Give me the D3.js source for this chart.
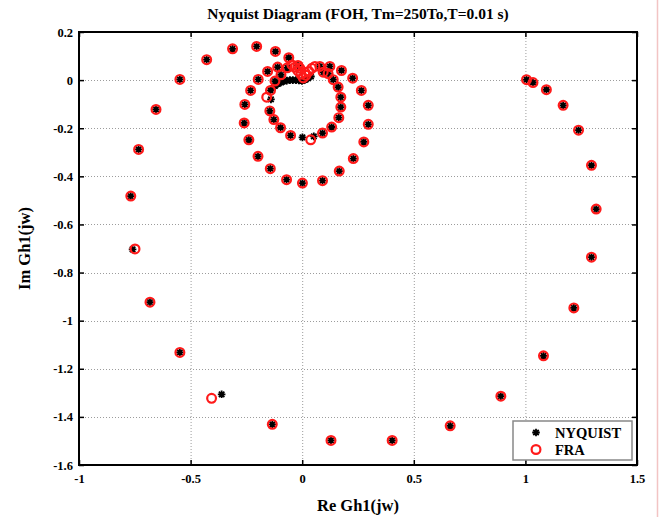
<!DOCTYPE html>
<html>
<head>
<meta charset="utf-8">
<script src="https://cdn.jsdelivr.net/npm/d3@7/dist/d3.min.js"></script>
<style>
  html, body { margin: 0; padding: 0; background: #fff; }
  svg { display: block; }
  text { font-family: "Liberation Serif", "Times New Roman", serif; font-weight: bold; fill: #000; }
</style>
</head>
<body>
<svg id="chart" width="662" height="517"></svg>
<script>
// Axis ticks
const xTicks = [-1, -0.5, 0, 0.5, 1, 1.5];
const yTicks = [0.2, 0, -0.2, -0.4, -0.6, -0.8, -1, -1.2, -1.4, -1.6];

// Computed Nyquist locus of Gh1(jw)
const nyquistRe = [1.005, 1.034, 1.094, 1.169, 1.238, 1.296, 1.317, 1.296, 1.217, 1.081,
  0.890, 0.663, 0.403, 0.129, -0.134, -0.361, -0.548, -0.682, -0.760, -0.768,
  -0.733, -0.655, -0.548, -0.428, -0.312, -0.204, -0.120, -0.060, -0.019, 0.079,
  0.124, 0.176, 0.226, 0.265, 0.296, 0.296, 0.276, 0.229, 0.166, 0.091,
  0.001, -0.070, -0.143, -0.198, -0.239, -0.260, -0.257, -0.231, -0.197, -0.155,
  -0.110, -0.067, 0.094, 0.116, 0.139, 0.161, 0.173, 0.173, 0.164, 0.132,
  0.091, 0.052, 0.001, -0.052, -0.097, -0.127, -0.145, -0.140, -0.142, -0.122,
  -0.095, -0.133, -0.122, -0.109, -0.095, -0.082, -0.069, -0.055, -0.042, -0.028,
  -0.015, -0.001, 0.012, 0.026, 0.039];
const nyquistIm = [0.002, -0.010, -0.040, -0.105, -0.208, -0.354, -0.536, -0.736, -0.947, -1.146,
  -1.314, -1.437, -1.498, -1.498, -1.431, -1.306, -1.132, -0.923, -0.704, -0.482,
  -0.288, -0.122, 0.003, 0.085, 0.130, 0.140, 0.119, 0.093, 0.061, 0.057,
  0.057, 0.040, 0.008, -0.043, -0.105, -0.184, -0.257, -0.326, -0.378, -0.418,
  -0.428, -0.414, -0.368, -0.317, -0.248, -0.178, -0.101, -0.043, 0.003, 0.036,
  0.054, 0.051, 0.033, 0.027, 0.002, -0.029, -0.071, -0.112, -0.156, -0.195,
  -0.220, -0.234, -0.238, -0.230, -0.198, -0.164, -0.128, -0.080, -0.043, -0.004,
  0.022, -0.034, -0.024, -0.016, -0.010, -0.005, -0.002, 0.000, 0.000, 0.000,
  -0.001, -0.003, 0.001, 0.007, 0.015];

// Frequency response analyser measurements
const fraRe = [1.005, 1.034, 1.094, 1.169, 1.238, 1.296, 1.317, 1.296, 1.217, 1.081,
  0.890, 0.663, 0.403, 0.129, -0.134, -0.406, -0.548, -0.682, -0.749, -0.768,
  -0.733, -0.655, -0.548, -0.428, -0.312, -0.204, -0.120, -0.060, -0.019, 0.079,
  0.124, 0.176, 0.226, 0.265, 0.296, 0.296, 0.276, 0.229, 0.166, 0.091,
  0.001, -0.070, -0.143, -0.198, -0.239, -0.260, -0.257, -0.231, -0.197, -0.155,
  -0.110, -0.067, 0.094, 0.116, 0.139, 0.161, 0.173, 0.173, 0.164, 0.132,
  0.091, 0.038, -0.052, -0.097, -0.127, -0.145, -0.159, -0.142, -0.122, -0.095,
  -0.046, -0.033, -0.019, -0.006, 0.005, 0.017, 0.030, 0.043, 0.057, 0.012, -0.010];
const fraIm = [0.002, -0.010, -0.040, -0.105, -0.208, -0.354, -0.536, -0.736, -0.947, -1.146,
  -1.314, -1.437, -1.498, -1.498, -1.431, -1.323, -1.132, -0.923, -0.702, -0.482,
  -0.288, -0.122, 0.003, 0.085, 0.130, 0.140, 0.119, 0.093, 0.061, 0.057,
  0.057, 0.040, 0.008, -0.043, -0.105, -0.184, -0.257, -0.326, -0.378, -0.418,
  -0.428, -0.414, -0.368, -0.317, -0.248, -0.178, -0.101, -0.043, 0.003, 0.036,
  0.054, 0.051, 0.033, 0.027, 0.002, -0.029, -0.071, -0.112, -0.156, -0.195,
  -0.220, -0.248, -0.230, -0.198, -0.164, -0.128, -0.071, -0.043, -0.004, 0.022,
  0.063, 0.053, 0.038, 0.024, 0.009, 0.020, 0.036, 0.049, 0.057, 0.032, 0.049];

const seriesNames = ["NYQUIST", "FRA"];

const svg = d3.select("#chart");
const W = 662, H = 517;
const m = { left: 79, top: 32, right: 25, bottom: 52 };
const pw = W - m.left - m.right, ph = H - m.top - m.bottom;

const x = d3.scaleLinear().domain([-1, 1.5]).range([0, pw]);
const y = d3.scaleLinear().domain([-1.6, 0.2]).range([ph, 0]);

// faint frame edge on the right of the figure
svg.append("line").attr("x1", 657.5).attr("x2", 657.5).attr("y1", 0).attr("y2", H)
  .attr("stroke", "#f2c4c4").attr("stroke-width", 1.5);

const g = svg.append("g").attr("transform", `translate(${m.left},${m.top})`);

// dotted grid
const grid = g.append("g").attr("stroke", "#9c9c9c").attr("stroke-width", 1).attr("stroke-dasharray", "1,2");
xTicks.slice(1, -1).forEach(t => grid.append("line")
  .attr("x1", x(t) + 0.5).attr("x2", x(t) + 0.5).attr("y1", 0).attr("y2", ph));
yTicks.slice(1, -1).forEach(t => grid.append("line")
  .attr("x1", 0).attr("x2", pw).attr("y1", Math.round(y(t)) + 0.5).attr("y2", Math.round(y(t)) + 0.5));

const fmt = d => String(+d.toFixed(2));

// axes with inward ticks
const axB = g.append("g").attr("transform", `translate(0,${ph})`)
  .call(d3.axisBottom(x).tickValues(xTicks).tickFormat(fmt).tickSizeInner(-5).tickSizeOuter(0).tickPadding(9));
const axT = g.append("g")
  .call(d3.axisTop(x).tickValues(xTicks).tickFormat("").tickSizeInner(-5).tickSizeOuter(0));
const axL = g.append("g")
  .call(d3.axisLeft(y).tickValues(yTicks).tickFormat(fmt).tickSizeInner(-5).tickSizeOuter(0).tickPadding(6));
const axR = g.append("g").attr("transform", `translate(${pw},0)`)
  .call(d3.axisRight(y).tickValues(yTicks).tickFormat("").tickSizeInner(-5).tickSizeOuter(0));

[axB, axT, axL, axR].forEach(a => {
  a.select(".domain").remove();
  a.selectAll(".tick line").attr("stroke", "#000").attr("stroke-width", 1.5);
  a.selectAll("text").attr("font-family", "Liberation Serif").attr("font-weight", "bold")
    .attr("font-size", 12.5).attr("fill", "#000");
});

// axes box
g.append("rect").attr("x", 0).attr("y", 0).attr("width", pw).attr("height", ph)
  .attr("fill", "none").attr("stroke", "#000").attr("stroke-width", 2);

// marker shapes
const starPath = (s) => `M${-s},0L${s},0M0,${-s}L0,${s}M${-s * 0.72},${-s * 0.72}L${s * 0.72},${s * 0.72}M${-s * 0.72},${s * 0.72}L${s * 0.72},${-s * 0.72}`;

const nyq = nyquistRe.map((r, i) => ({ re: r, im: nyquistIm[i] }));
const fra = fraRe.map((r, i) => ({ re: r, im: fraIm[i] }));

g.append("g").selectAll("path").data(nyq).join("path")
  .attr("transform", d => `translate(${x(d.re)},${y(d.im)})`)
  .attr("d", starPath(3.8))
  .attr("stroke", "#000").attr("stroke-width", 1.8).attr("fill", "none");

g.append("g").selectAll("circle").data(fra).join("circle")
  .attr("cx", d => x(d.re)).attr("cy", d => y(d.im)).attr("r", 4.4)
  .attr("fill", "none").attr("stroke", "#ff1a1a").attr("stroke-width", 2.2);

// legend
const lg = g.append("g").attr("transform", `translate(${513 - m.left},${421 - m.top})`);
lg.append("rect").attr("width", 119).attr("height", 39).attr("fill", "#fff")
  .attr("stroke", "#888").attr("stroke-width", 1.5);
lg.append("path").attr("transform", "translate(23,11.5)").attr("d", starPath(3.8))
  .attr("stroke", "#000").attr("stroke-width", 1.8);
lg.append("circle").attr("cx", 23).attr("cy", 28.5).attr("r", 4.4)
  .attr("fill", "none").attr("stroke", "#ff1a1a").attr("stroke-width", 2.2);
seriesNames.forEach((n, i) => lg.append("text").attr("x", 42).attr("y", 16.5 + i * 17)
  .attr("font-size", 14.5).text(n));

// title and axis labels
svg.append("text").attr("x", m.left + pw / 2).attr("y", 19).attr("text-anchor", "middle")
  .attr("font-size", 15.5).text("Nyquist Diagram (FOH, Tm=250To,T=0.01 s)");
svg.append("text").attr("x", m.left + pw / 2).attr("y", 511).attr("text-anchor", "middle")
  .attr("font-size", 16.5).text("Re Gh1(jw)");
svg.append("text").attr("transform", `translate(30,${m.top + ph / 2}) rotate(-90)`)
  .attr("text-anchor", "middle").attr("font-size", 16.5).text("Im Gh1(jw)");
</script>
</body>
</html>
